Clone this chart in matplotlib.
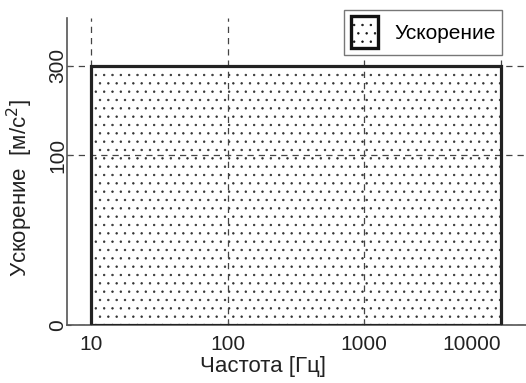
import numpy as np
import matplotlib
matplotlib.use('Agg')
import matplotlib.pyplot as plt
from matplotlib.patches import Rectangle

plt.rcParams['font.family'] = ['Liberation Sans', 'DejaVu Sans']
plt.rcParams['hatch.linewidth'] = 0.5
plt.rcParams['hatch.color'] = '#333333'

# data
freq_range = [10, 10000]          # Гц
accel_level = 300                 # м/с2
x_ticks = [10, 100, 1000, 10000]
x_labels = ['10', '100', '1000', '10000']
y_ticks = [0, 100, 300]
y_labels = ['0', '100', '300']
series_name = 'Ускорение'


def fwd(y):
    y = np.asarray(y, dtype=float)
    return np.log1p(np.clip(y, -17.9, None) / 18.0)


def inv(u):
    return 18.0 * np.expm1(u)


fig = plt.figure(figsize=(5.26, 3.83), dpi=100)
ax = fig.add_axes([67 / 526, 58 / 383, 1 - 67 / 526, 307 / 383])

ax.set_xscale('log')
ax.set_yscale('function', functions=(fwd, inv))
ax.set_xlim(6.67, 15300)
ax.set_ylim(0, 520)

# filled area
rect = Rectangle((freq_range[0], 0), freq_range[1] - freq_range[0], accel_level,
                 facecolor='white', edgecolor='#333333', hatch='..', lw=0,
                 zorder=1, label=series_name)
ax.add_patch(rect)
ax.add_patch(Rectangle((freq_range[0], 0), freq_range[1] - freq_range[0], accel_level,
                       facecolor='none', edgecolor='#222222', lw=2.3, zorder=3))

ax.set_xticks(x_ticks)
ax.set_xticklabels(x_labels)
ax.minorticks_off()
ax.set_yticks(y_ticks)
ax.set_yticklabels(y_labels, rotation=90, va='center')
ax.get_xticklabels()[-1].set_ha('right')

ax.tick_params(axis='both', direction='in', length=3, color='#555555',
               labelsize=15, labelcolor='#222222')
ax.tick_params(axis='x', pad=7)
ax.tick_params(axis='y', pad=0)

ax.grid(True, ls=(0, (5, 4)), color='#444444', lw=0.9, zorder=2)
ax.set_axisbelow(False)

for s in ['top', 'right']:
    ax.spines[s].set_visible(False)
for s in ['left', 'bottom']:
    ax.spines[s].set_color('#555555')
    ax.spines[s].set_linewidth(1.2)

ax.set_xlabel('Частота [Гц]', fontsize=16, color='#222222')
ax.set_ylabel('Ускорение  [м/с$^2$]', fontsize=16, color='#222222')
ax.xaxis.set_label_coords((263 - 67) / 459, -0.1)
ax.yaxis.set_label_coords(-0.07, 0.446)

handle = Rectangle((0, 0), 1, 1, facecolor='white', edgecolor='#111111',
                   hatch='..', lw=2.4, joinstyle='round')
fig.legend([handle], [series_name], loc='upper right',
           bbox_to_anchor=(502 / 526, 1 - 10 / 383), borderaxespad=0,
           fontsize=15, fancybox=False, framealpha=1, edgecolor='#777777',
           handlelength=1.3, handleheight=2.0, borderpad=0.3,
           handletextpad=0.8)

fig.savefig('out.png', dpi=100)
